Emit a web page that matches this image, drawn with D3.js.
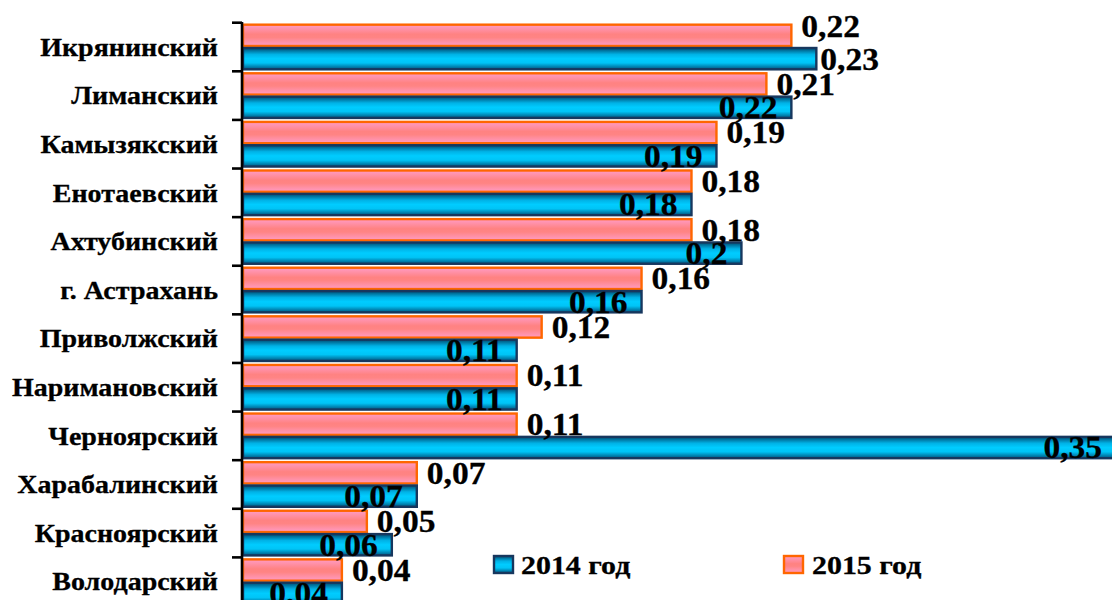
<!DOCTYPE html>
<html><head><meta charset="utf-8">
<script src="https://cdn.jsdelivr.net/npm/d3@7"></script>
<style>html,body{margin:0;padding:0;background:#fff;overflow:hidden}</style>
</head><body><svg id="c" width="1112" height="600"></svg>
<script>
const categories = ["Икрянинский","Лиманский","Камызякский","Енотаевский","Ахтубинский ","г. Астрахань","Приволжский","Наримановский","Черноярский","Харабалинский","Красноярский","Володарский "];
const values2014 = [0.23,0.22,0.19,0.18,0.2,0.16,0.11,0.11,0.35,0.07,0.06,0.04];
const values2015 = [0.22,0.21,0.19,0.18,0.18,0.16,0.12,0.11,0.11,0.07,0.05,0.04];
const seriesNames = ["2015 год","2014 год"];
const labels2014 = ["0,23","0,22","0,19","0,18","0,2","0,16","0,11","0,11","0,35","0,07","0,06","0,04"];
const labels2015 = ["0,22","0,21","0,19","0,18","0,18","0,16","0,12","0,11","0,11","0,07","0,05","0,04"];

const svg = d3.select("#c");
const FONT = "'Liberation Serif','Times New Roman',serif";

const defs = svg.append("defs");
const gp = defs.append("linearGradient").attr("id","gPink").attr("x1",0).attr("y1",0).attr("x2",0).attr("y2",1);
[[0,"#ff9cc6"],[0.45,"#ff8282"],[0.6,"#ff8484"],[1,"#ff9cc6"]].forEach(s=>gp.append("stop").attr("offset",s[0]).attr("stop-color",s[1]));
const gb = defs.append("linearGradient").attr("id","gBlue").attr("x1",0).attr("y1",0).attr("x2",0).attr("y2",1);
[[0,"#004a70"],[0.3,"#00b2e6"],[0.5,"#00ccff"],[0.7,"#00c4f6"],[1,"#005580"]].forEach(s=>gb.append("stop").attr("offset",s[0]).attr("stop-color",s[1]));

const x = d3.scaleLinear().domain([0,0.35]).range([242,1116]);
const y = d3.scaleBand().domain(categories).range([22.7,606]).paddingInner(0.04).paddingOuter(0.02);
const ySub = d3.scaleBand().domain(seriesNames).range([0,y.bandwidth()]);

const style = {
  "2015 год": {fill:"url(#gPink)", stroke:"#ff6600"},
  "2014 год": {fill:"url(#gBlue)", stroke:"#17375e"}
};

const rows = categories.map((c,i)=>({c, v14:values2014[i], v15:values2015[i], l14:labels2014[i], l15:labels2015[i], i}));

function stext(g, tx, ty, str, size, anchor, sx){
  return g.append("text").attr("transform",`translate(${tx},${ty}) scale(${sx},1)`)
    .attr("text-anchor",anchor).attr("dy","0.35em")
    .style("font-family",FONT).style("font-weight","bold").style("font-size",size+"px")
    .attr("fill","#000").attr("stroke","#000").attr("stroke-width",0.3).text(str);
}

const bars = svg.append("g");
rows.forEach(r=>{
  [["2015 год",r.v15],["2014 год",r.v14]].forEach(([s,v])=>{
    bars.append("rect")
      .attr("x",x(0)+1).attr("y",y(r.c)+ySub(s)+1)
      .attr("width",x(v)-x(0)-1).attr("height",ySub.bandwidth()-2)
      .attr("fill",style[s].fill).attr("stroke",style[s].stroke).attr("stroke-width",2.4);
  });
});

// axis
const ax = svg.append("g");
ax.append("line").attr("x1",x(0)).attr("x2",x(0)).attr("y1",22).attr("y2",600).attr("stroke","#000").attr("stroke-width",2.6);
d3.range(categories.length+1).forEach(k=>{
  const yy = 22.7 + k*((606-22.7)/categories.length);
  ax.append("line").attr("x1",x(0)-10).attr("x2",x(0)).attr("y1",yy).attr("y2",yy).attr("stroke","#000").attr("stroke-width",2.6);
});

// category labels
rows.forEach(r=>{
  stext(svg, 218, y(r.c)+y.bandwidth()/2, r.c.trim(), 25, "end", 1.12);
});

// value labels
const outsideBlue = new Set(["Икрянинский"]);
const nudge15 = {"Икрянинский": -9};
rows.forEach(r=>{
  const yp = y(r.c)+ySub("2015 год")+ySub.bandwidth()/2 + (nudge15[r.c]||0);
  stext(svg, x(r.v15)+10, yp, r.l15, 31, "start", 1.08);
  const yb = y(r.c)+ySub("2014 год")+ySub.bandwidth()/2;
  if (outsideBlue.has(r.c)) stext(svg, x(r.v14)+4, yb, r.l14, 31, "start", 1.08);
  else stext(svg, Math.min(x(r.v14),1116)-14, yb, r.l14, 31, "end", 1.08);
});

// legend
const leg = svg.append("g");
[["2014 год",493,521],["2015 год",783,812]].forEach(([s,mx,tx])=>{
  leg.append("rect").attr("x",mx+1).attr("y",556).attr("width",19).attr("height",17)
    .attr("fill",style[s].fill).attr("stroke",style[s].stroke).attr("stroke-width",2.4);
  stext(leg, tx, 565, s, 26, "start", 1.15);
});
</script></body></html>
